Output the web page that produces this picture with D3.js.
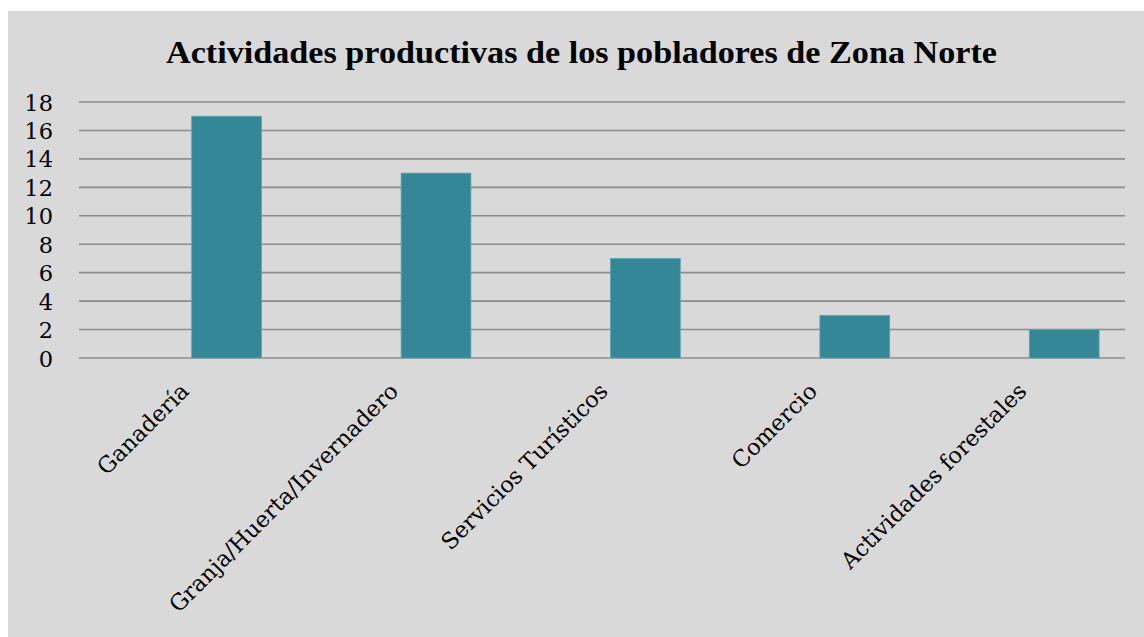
<!DOCTYPE html>
<html>
<head>
<meta charset="utf-8">
<script src="https://cdn.jsdelivr.net/npm/d3@7"></script>
<style>
  html, body { margin: 0; padding: 0; background: #ffffff; }
  svg { display: block; }
</style>
</head>
<body>
<svg id="chart" width="1144" height="637"></svg>
<script>
// Productive activities of the northern zone inhabitants
const categories = ["Ganadería", "Granja/Huerta/Invernadero", "Servicios Turísticos", "Comercio", "Actividades forestales"];
const values = [17, 13, 7, 3, 2];
const yTicks = [0, 2, 4, 6, 8, 10, 12, 14, 16, 18];
const titleText = "Actividades productivas de los pobladores de Zona Norte";

const W = 1144, H = 637;
const frame = { x: 8, y: 11 };
const plot = { left: 79, right: 1125, top: 102, bottom: 358 };
const labelFont = "DejaVu Serif, serif";
const titleFont = "Liberation Serif, serif";

const svg = d3.select("#chart");

svg.append("rect")
  .attr("x", frame.x).attr("y", frame.y)
  .attr("width", W - frame.x).attr("height", H - frame.y)
  .attr("fill", "#d9d9d9");

const y = d3.scaleLinear().domain([0, 18]).range([plot.bottom, plot.top]);

// Category bands; each band holds an empty slot and the value bar
const x = d3.scaleBand().domain(categories).range([plot.left + 8, plot.right + 9]).paddingInner(0).paddingOuter(0);
const barW = x.bandwidth() / 3;

// Gridlines
svg.append("g").selectAll("line").data(yTicks).join("line")
  .attr("x1", plot.left).attr("x2", plot.right)
  .attr("y1", d => y(d)).attr("y2", d => y(d))
  .attr("stroke", "#8c8c8c").attr("stroke-width", 1.6);

// Bars
svg.append("g").selectAll("rect").data(values).join("rect")
  .attr("x", (d, i) => x(categories[i]) + x.bandwidth() / 2)
  .attr("y", d => y(d))
  .attr("width", barW)
  .attr("height", d => y(0) - y(d))
  .attr("fill", "#348797")
  .attr("stroke", "#5ea3b1").attr("stroke-width", 0.8);

// Y axis labels
const yAxis = d3.axisLeft(y).tickValues(yTicks).tickSize(0).tickPadding(0);
const yg = svg.append("g").attr("transform", `translate(${plot.left - 26},0)`).call(yAxis);
yg.select(".domain").remove();
yg.selectAll("text")
  .attr("font-family", labelFont).attr("font-size", 22.5).attr("fill", "#000")
  .attr("dy", "0.36em");

// X axis labels, rotated
const xAxis = d3.axisBottom(x).tickSize(0).tickPadding(0);
const xg = svg.append("g").attr("transform", `translate(0,${plot.bottom})`).call(xAxis);
xg.select(".domain").remove();
xg.selectAll("text")
  .attr("font-family", labelFont).attr("font-size", 22.5).attr("fill", "#000")
  .attr("text-anchor", "end")
  .attr("transform", "translate(-7,29) rotate(-45)")
  .attr("dy", "0.35em").attr("y", 0);

// Title
svg.append("text")
  .attr("x", (166 + 997) / 2).attr("y", 63)
  .attr("text-anchor", "middle")
  .attr("font-family", titleFont).attr("font-weight", "bold")
  .attr("font-size", 32).attr("fill", "#000")
  .attr("textLength", 831).attr("lengthAdjust", "spacingAndGlyphs")
  .text(titleText);
</script>
</body>
</html>
